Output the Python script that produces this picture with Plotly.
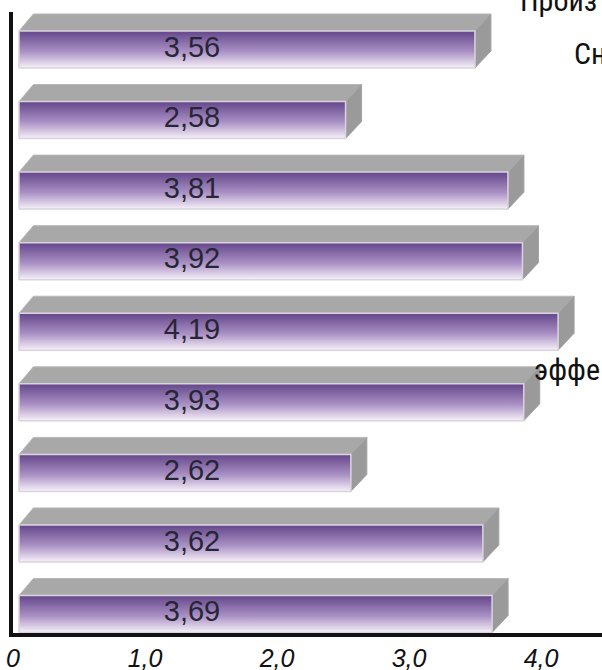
import plotly.graph_objects as go

# ---- data (top to bottom as in the picture) ----
values = [3.56, 2.58, 3.81, 3.92, 4.19, 3.93, 2.62, 3.62, 3.69]
tick_vals = [0, 1, 2, 3, 4]
tick_text = ["0", "1,0", "2,0", "3,0", "4,0"]
side_texts = ["Произ", "Сн", "эффе"]

W, H = 602, 670
PL, PR, PT, PB = 13, 602, 12, 633          # plot area in window pixels
ML, MT = PL, PT
MR = W - PR
MB = H - PB
X_RANGE = [0, 4.462]
n = len(values)
Y_RANGE = [-0.269, n - 1 + 0.531]

px_per_x = (PR - PL) / (X_RANGE[1] - X_RANGE[0])
px_per_y = (PB - PT) / (Y_RANGE[1] - Y_RANGE[0])

dx = 16 / px_per_x       # depth (horizontal)
dy = 17 / px_per_y       # depth (vertical)
hh = 18.5 / px_per_y     # half height of front face
xs = 6 / px_per_x        # start of the front face

fig = go.Figure()

for i, v in enumerate(values):
    c = (n - 1) - i
    xf = v - dx / 2
    xb = v + dx / 2
    # top face
    fig.add_trace(go.Scatter(
        x=[xs, xs + dx * 0.9, xb, xf, xs],
        y=[c + hh, c + hh + dy, c + hh + dy, c + hh, c + hh],
        fill="toself", mode="lines",
        fillcolor="#a8a8a8", line=dict(color="#b8b8b8", width=1),
        hoverinfo="skip", showlegend=False))
    # right face
    fig.add_trace(go.Scatter(
        x=[xf, xb, xb, xf, xf],
        y=[c + hh, c + hh + dy, c - hh + dy, c - hh, c + hh],
        fill="toself", mode="lines",
        fillcolor="#9a9a9a", line=dict(color="#a3a3a3", width=1),
        hoverinfo="skip", showlegend=False))
    # front face with gradient
    fig.add_trace(go.Scatter(
        x=[xs, xf, xf, xs, xs],
        y=[c - hh, c - hh, c + hh, c + hh, c - hh],
        fill="toself", mode="lines",
        fillgradient=dict(type="vertical",
                          colorscale=[[0, "#f7f1f8"], [0.45, "#a990c4"], [1, "#64468a"]]),
        line=dict(color="#d9d3dd", width=1.5),
        hoverinfo="skip", showlegend=False))

label_x = (192 - PL) / px_per_x
fig.add_trace(go.Scatter(
    x=[label_x] * n,
    y=[(n - 1) - i for i in range(n)],
    mode="text",
    text=[f"{v:.2f}".replace(".", ",") for v in values],
    textfont=dict(family="Liberation Sans, Arial, sans-serif", size=29, color="#262636"),
    textposition="middle center",
    hoverinfo="skip", showlegend=False))


def paper_x(px):
    return (px - PL) / (PR - PL)


def paper_y(py):
    return 1 - (py - PT) / (PB - PT)


side_font = dict(family="Liberation Sans Narrow, Roboto Condensed, Liberation Sans, sans-serif",
                 size=30, color="#111111")
side_pos = [(518, 1), (572, 54), (532, 369)]
for t, (px, py) in zip(side_texts, side_pos):
    fig.add_annotation(text=t, xref="paper", yref="paper",
                       x=paper_x(px), y=paper_y(py), xanchor="left", yanchor="middle",
                       showarrow=False, font=side_font)

fig.update_layout(
    width=W, height=H,
    margin=dict(l=ML, r=MR, t=MT, b=MB, autoexpand=False),
    plot_bgcolor="white", paper_bgcolor="white",
    xaxis=dict(range=X_RANGE, tickvals=tick_vals, ticktext=tick_text,
               showline=True, linewidth=4, linecolor="#111111",
               showgrid=False, zeroline=False, automargin=False,
               ticks="", ticklabeloverflow="allow",
               tickfont=dict(family="Liberation Sans, Arial, sans-serif", size=25,
                             color="#111111", style="italic"),
               fixedrange=True),
    yaxis=dict(range=Y_RANGE, showline=True, linewidth=4, linecolor="#111111",
               showgrid=False, zeroline=False, showticklabels=False, ticks="",
               automargin=False, fixedrange=True),
)

fig.write_html("out.html",
               config={"displayModeBar": False},
               post_script="document.body.style.margin='0px';document.body.style.padding='0px';")
